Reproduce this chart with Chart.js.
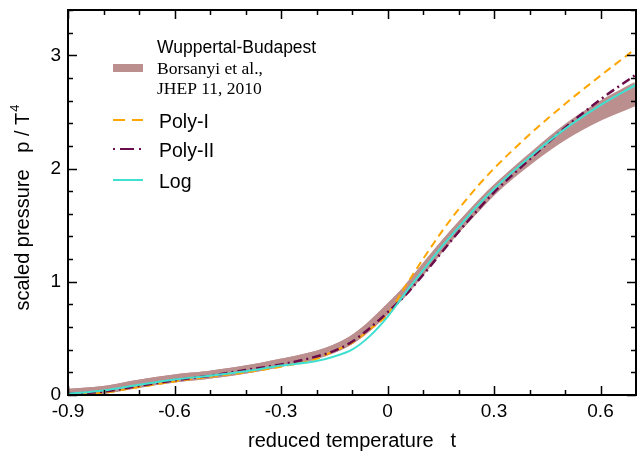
<!DOCTYPE html>
<html>
<head>
<meta charset="utf-8">
<script src="https://cdn.jsdelivr.net/npm/chart.js@4/dist/chart.umd.min.js"></script>
<style>
  html, body { margin: 0; padding: 0; background: #fff; }
  #wrap { width: 637px; height: 453px; }
</style>
</head>
<body>
<div id="wrap"><canvas id="pressure-chart" width="637" height="453"></canvas></div>
<script>
// reduced temperature t
const tValues = [-0.9, -0.8, -0.7, -0.6, -0.5, -0.4, -0.3, -0.2, -0.15, -0.1, -0.05, 0, 0.05, 0.1, 0.15, 0.2, 0.25, 0.3, 0.4, 0.5, 0.6, 0.7];

// Wuppertal-Budapest band (upper / lower edge)
const wbUpper = [0.02, 0.045, 0.10, 0.145, 0.18, 0.225, 0.285, 0.355, 0.41, 0.49, 0.61, 0.76, 0.92, 1.11, 1.30, 1.48, 1.65, 1.81, 2.09, 2.35, 2.56, 2.73];
const wbLower = [0.02, 0.045, 0.10, 0.145, 0.18, 0.225, 0.285, 0.355, 0.41, 0.49, 0.61, 0.76, 0.92, 1.11, 1.30, 1.48, 1.65, 1.81, 2.07, 2.29, 2.46, 2.59];

const polyI  = [0.00, 0.02, 0.07, 0.12, 0.16, 0.20, 0.25, 0.32, 0.39, 0.46, 0.58, 0.71, 0.96, 1.20, 1.43, 1.64, 1.83, 2.00, 2.30, 2.57, 2.82, 3.06];
const polyII = [0.01, 0.03, 0.08, 0.13, 0.17, 0.22, 0.27, 0.34, 0.39, 0.47, 0.59, 0.73, 0.88, 1.06, 1.25, 1.44, 1.62, 1.79, 2.08, 2.36, 2.61, 2.83];
const logFit = [0.01, 0.04, 0.09, 0.137, 0.17, 0.21, 0.26, 0.30, 0.34, 0.40, 0.52, 0.69, 0.90, 1.10, 1.30, 1.48, 1.66, 1.82, 2.10, 2.35, 2.56, 2.74];

const xTickValues = [-0.9, -0.6, -0.3, 0, 0.3, 0.6];
const xTickLabels = ['-0.9', '-0.6', '-0.3', '0', '0.3', '0.6'];
const yTickValues = [0, 1, 2, 3];
const yTickLabels = ['0', '1', '2', '3'];

const BAND = '#bc8f8f';
const ORANGE = '#ffa500';
const PURPLE = '#6a0d4a';
const CYAN = '#40e0d0';
const FONT = '"Liberation Sans", Arial, Helvetica, sans-serif';
const SERIF = '"Liberation Serif", "Times New Roman", serif';

const pts = arr => arr.map((v, i) => ({ x: tValues[i], y: v }));

// frame with inward ticks on all four sides, y title, legend
const decorations = {
    id: 'decorations',
    afterDraw(chart) {
        const ctx = chart.ctx;
        const a = chart.chartArea;
        const xs = chart.scales.x, ys = chart.scales.y;
        ctx.save();
        ctx.strokeStyle = '#000';
        ctx.lineWidth = 2;
        ctx.strokeRect(a.left, a.top, a.right - a.left, a.bottom - a.top);

        ctx.lineWidth = 1.5;
        ctx.beginPath();
        for (let i = 0; i <= 16; i++) {
            const v = -0.9 + i * 0.1;
            const px = Math.round(xs.getPixelForValue(v)) + 0.5;
            const len = (i % 3 === 0) ? 9 : 5;
            ctx.moveTo(px, a.bottom); ctx.lineTo(px, a.bottom - len);
            ctx.moveTo(px, a.top); ctx.lineTo(px, a.top + len);
        }
        for (let i = 0; i <= 17; i++) {
            const v = i * 0.2;
            const py = Math.round(ys.getPixelForValue(v)) + 0.5;
            const len = (i % 5 === 0) ? 9 : 5;
            ctx.moveTo(a.left, py); ctx.lineTo(a.left + len, py);
            ctx.moveTo(a.right, py); ctx.lineTo(a.right - len, py);
        }
        ctx.stroke();

        // y axis title with superscript
        ctx.save();
        ctx.translate(23, 208);
        ctx.rotate(-Math.PI / 2);
        ctx.fillStyle = '#000';
        ctx.textBaseline = 'middle';
        ctx.font = '20px ' + FONT;
        const main = 'scaled pressure   p / T';
        const wMain = ctx.measureText(main).width;
        ctx.font = '13px ' + FONT;
        const wSup = ctx.measureText('4').width;
        const x0 = -(wMain + wSup) / 2;
        ctx.font = '20px ' + FONT;
        ctx.textAlign = 'left';
        ctx.fillText(main, x0, 0);
        ctx.font = '13px ' + FONT;
        ctx.fillText('4', x0 + wMain + 1, -8);
        ctx.restore();

        // legend
        ctx.fillStyle = BAND;
        ctx.fillRect(113, 64, 30, 8);
        ctx.fillStyle = '#000';
        ctx.textAlign = 'left';
        ctx.textBaseline = 'alphabetic';
        ctx.font = '17.5px ' + FONT;
        ctx.fillText('Wuppertal-Budapest', 157, 53);
        ctx.font = '17.5px ' + SERIF;
        ctx.fillText('Borsanyi et al.,', 157, 74);
        ctx.fillText('JHEP 11, 2010', 157, 94);

        const items = [
            { label: 'Poly-I', color: ORANGE, dash: [12, 7], width: 2, y: 120 },
            { label: 'Poly-II', color: PURPLE, dash: [2, 5, 14, 5, 2], width: 2, y: 149 },
            { label: 'Log', color: CYAN, dash: [], width: 2, y: 180 }
        ];
        items.forEach(it => {
            ctx.strokeStyle = it.color;
            ctx.lineWidth = it.width;
            ctx.setLineDash(it.dash);
            ctx.beginPath();
            ctx.moveTo(113, it.y);
            ctx.lineTo(143, it.y);
            ctx.stroke();
            ctx.setLineDash([]);
            ctx.fillStyle = '#000';
            ctx.font = '19.5px ' + FONT;
            ctx.textBaseline = 'middle';
            ctx.fillText(it.label, 159, it.y + 3);
        });
        ctx.restore();
    }
};

const ctx = document.getElementById('pressure-chart').getContext('2d');
const pressureChart = new Chart(ctx, {
    type: 'line',
    data: {
        datasets: [
            {
                label: 'WB upper',
                data: pts(wbUpper),
                borderColor: BAND,
                borderWidth: 8,
                fill: false,
                order: 10
            },
            {
                label: 'Wuppertal-Budapest',
                data: pts(wbLower),
                borderColor: BAND,
                backgroundColor: BAND,
                borderWidth: 8,
                fill: '-1',
                order: 9
            },
            {
                label: 'Poly-I',
                data: pts(polyI),
                borderColor: ORANGE,
                borderWidth: 2,
                borderDash: [8, 5],
                order: 3
            },
            {
                label: 'Poly-II',
                data: pts(polyII),
                borderColor: PURPLE,
                borderWidth: 2.5,
                borderDash: [9, 4, 2, 4],
                order: 2
            },
            {
                label: 'Log',
                data: pts(logFit),
                borderColor: CYAN,
                borderWidth: 2,
                order: 1
            }
        ]
    },
    options: {
        responsive: false,
        animation: false,
        layout: { autoPadding: false, padding: { left: 0, right: 1, top: 10, bottom: 0 } },
        elements: {
            point: { radius: 0 },
            line: { cubicInterpolationMode: 'monotone', borderCapStyle: 'butt' }
        },
        plugins: {
            legend: { display: false },
            tooltip: { enabled: false }
        },
        scales: {
            x: {
                type: 'linear',
                min: -0.9,
                max: 0.7,
                afterFit: s => { s.height = 58; s.paddingLeft = 0; s.paddingRight = 0; },
                afterBuildTicks: s => { s.ticks = xTickValues.map(v => ({ value: v })); },
                grid: { display: false, drawTicks: false },
                border: { display: false },
                ticks: {
                    padding: 5,
                    color: '#000',
                    font: { family: FONT, size: 19 },
                    maxRotation: 0,
                    callback: (v, i) => xTickLabels[i]
                },
                title: {
                    display: true,
                    text: 'reduced temperature   t',
                    color: '#000',
                    font: { family: FONT, size: 20 },
                    padding: { top: 0, bottom: 0 }
                }
            },
            y: {
                type: 'linear',
                min: 0,
                max: 3.4,
                afterFit: s => { s.width = 68; s.paddingTop = 0; s.paddingBottom = 0; },
                afterBuildTicks: s => { s.ticks = yTickValues.map(v => ({ value: v })); },
                grid: { display: false, drawTicks: false },
                border: { display: false },
                ticks: {
                    padding: 7,
                    color: '#000',
                    font: { family: FONT, size: 19 },
                    callback: (v, i) => yTickLabels[i]
                }
            }
        }
    },
    plugins: [decorations]
});
</script>
</body>
</html>
